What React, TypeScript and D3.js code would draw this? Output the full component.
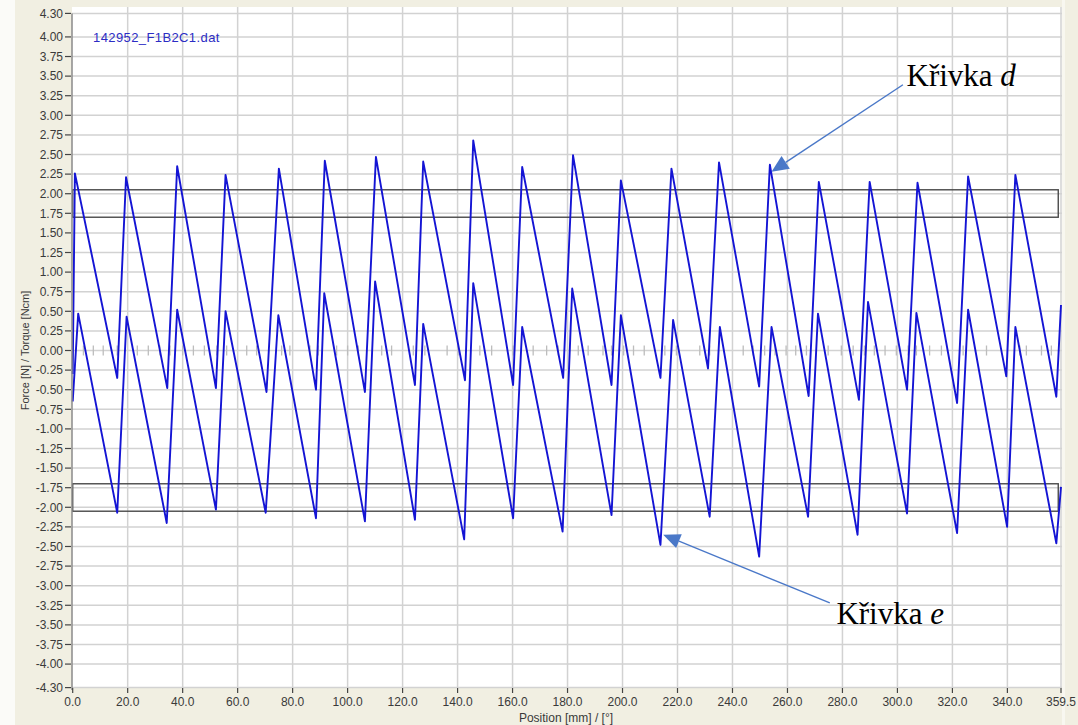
import React from "react";
import * as d3 from "d3";

const W = 1078;
const H = 725;

// ---- axis ticks ----
const yTickValues = [
  4.3, 4.0, 3.75, 3.5, 3.25, 3.0, 2.75, 2.5, 2.25, 2.0, 1.75, 1.5, 1.25, 1.0, 0.75, 0.5, 0.25, 0.0,
  -0.25, -0.5, -0.75, -1.0, -1.25, -1.5, -1.75, -2.0, -2.25, -2.5, -2.75, -3.0, -3.25, -3.5, -3.75, -4.0, -4.3,
];
const xTickValues = [0, 20, 40, 60, 80, 100, 120, 140, 160, 180, 200, 220, 240, 260, 280, 300, 320, 340, 359.5];
const xTickLabels = [
  "0.0", "20.0", "40.0", "60.0", "80.0", "100.0", "120.0", "140.0", "160.0", "180.0", "200.0",
  "220.0", "240.0", "260.0", "280.0", "300.0", "320.0", "340.0", "359.5",
];

// ---- curve d (upper) ----
const dStart: [number, number] = [0.0, -0.3];
const dPeakX = [0.8, 19.4, 38.0, 55.6, 75.0, 91.7, 110.3, 127.5, 145.7, 163.5, 182.0, 199.4, 217.8, 235.1, 253.6, 271.4, 289.9, 307.3, 325.7, 342.9];
const dPeakY = [2.26, 2.21, 2.35, 2.24, 2.32, 2.42, 2.47, 2.41, 2.68, 2.34, 2.49, 2.17, 2.32, 2.4, 2.37, 2.15, 2.15, 2.14, 2.22, 2.24];
const dTroughX = [16.2, 34.4, 52.1, 70.5, 88.5, 106.3, 124.5, 142.7, 160.2, 178.4, 196.0, 213.8, 231.1, 249.7, 267.7, 286.0, 303.5, 321.7, 339.6, 357.8];
const dTroughY = [-0.35, -0.48, -0.48, -0.53, -0.5, -0.53, -0.44, -0.38, -0.44, -0.35, -0.44, -0.35, -0.23, -0.46, -0.58, -0.63, -0.5, -0.67, -0.33, -0.59];
const dEnd: [number, number] = [359.5, 0.58];

// ---- curve e (lower) ----
const eStart: [number, number] = [0.0, -0.65];
const ePeakX = [2.0, 19.6, 38.0, 55.6, 74.8, 91.5, 110.0, 127.5, 145.7, 163.5, 181.7, 199.4, 218.4, 235.4, 254.2, 271.1, 289.3, 306.9, 325.7, 342.9];
const ePeakY = [0.47, 0.43, 0.52, 0.5, 0.45, 0.73, 0.88, 0.34, 0.86, 0.3, 0.79, 0.45, 0.39, 0.3, 0.3, 0.47, 0.62, 0.48, 0.52, 0.3];
const eTroughX = [16.2, 34.2, 52.1, 70.2, 88.5, 106.3, 124.5, 142.4, 160.2, 178.2, 196.0, 213.8, 231.7, 249.7, 267.5, 285.5, 303.5, 321.7, 339.9, 357.8];
const eTroughY = [-2.07, -2.2, -2.03, -2.07, -2.14, -2.18, -2.16, -2.41, -2.14, -2.31, -2.1, -2.48, -2.12, -2.63, -2.12, -2.35, -2.08, -2.33, -2.25, -2.46];
const eEnd: [number, number] = [359.5, -1.74];

// ---- tolerance windows ----
const windowX = [0, 358.5];
const upperWindow = [1.7, 2.05];
const lowerWindow = [-2.05, -1.7];

// ---- small grey markers on zero line ----
const zeroMarks = [
  3.9, 7.5, 11.1, 16.2, 23.5, 27.5, 31.7, 35.4, 40.0, 43.9, 47.9, 52.4, 56.0, 63.3, 66.9, 76.0, 79.0, 86.3, 89.3,
  96.0, 100.0, 103.9, 112.4, 116.0, 123.9, 128.1, 136.2, 140.2, 148.1, 152.4, 160.2, 167.5, 172.4, 176.6, 183.9,
  187.5, 192.9, 196.0, 200.4, 204.0, 207.9, 215.4, 219.6, 228.1, 231.7, 243.9, 247.5, 251.7, 255.5, 259.5, 263.0,
  266.9, 274.8, 279.6, 283.9, 288.0, 291.6, 295.5, 299.6, 303.9, 306.9, 311.7, 316.0, 323.9, 332.4, 344.5, 346.9,
  352.4, 356.0,
];

// ---- annotations (data coordinates) ----
const annotD = { label: "Křivka ", italic: "d", text: [303.3, 3.37], from: [302.0, 3.39], tip: [254.2, 2.28] };
const annotE = { label: "Křivka ", italic: "e", text: [277.8, -3.49], from: [275.4, -3.22], tip: [214.8, -2.35] };

function buildCurve(
  start: [number, number],
  px: number[],
  py: number[],
  tx: number[],
  ty: number[],
  end: [number, number]
): [number, number][] {
  const pts: [number, number][] = [start];
  for (let i = 0; i < px.length; i++) {
    pts.push([px[i], py[i]]);
    pts.push([tx[i], ty[i]]);
  }
  pts.push(end);
  return pts;
}

const dPoints = buildCurve(dStart, dPeakX, dPeakY, dTroughX, dTroughY, dEnd);
const ePoints = buildCurve(eStart, ePeakX, ePeakY, eTroughX, eTroughY, eEnd);

const BEIGE = "#f1efe2";
const GRID = "#d2d2d2";
const CURVE = "#1414d4";
const ARROW = "#4a78c8";
const TXT = "#3a3a3a";

function Arrow({ from, tip }: { from: [number, number]; tip: [number, number] }) {
  const dx = tip[0] - from[0];
  const dy = tip[1] - from[1];
  const len = Math.hypot(dx, dy);
  const ux = dx / len;
  const uy = dy / len;
  const headL = 17;
  const headW = 7.5;
  const bx = tip[0] - ux * headL;
  const by = tip[1] - uy * headL;
  const p1 = [bx - uy * headW, by + ux * headW];
  const p2 = [bx + uy * headW, by - ux * headW];
  return (
    <g>
      <line x1={from[0]} y1={from[1]} x2={bx} y2={by} stroke={ARROW} strokeWidth={1.4} />
      <polygon points={`${tip[0]},${tip[1]} ${p1[0]},${p1[1]} ${p2[0]},${p2[1]}`} fill={ARROW} />
    </g>
  );
}

export default function App() {
  const x = d3.scaleLinear().domain([0, 359.5]).range([72.7, 1061]);
  const y = d3.scaleLinear().domain([-4.3, 4.3]).range([687.6, 13.4]);
  const line = d3
    .line<[number, number]>()
    .x((d) => x(d[0]))
    .y((d) => y(d[1]));

  const plotLeft = 72;
  const plotRight = 1062;
  const plotTop = 7;
  const plotBottom = 688;

  const sans = "'Liberation Sans', Arial, sans-serif";
  const serif = "'Liberation Serif', 'Times New Roman', serif";

  const renderAnnot = (a: typeof annotD) => (
    <g>
      <Arrow from={[x(a.from[0]), y(a.from[1])]} tip={[x(a.tip[0]), y(a.tip[1])]} />
      <text x={x(a.text[0])} y={y(a.text[1])} fontFamily={serif} fontSize={31} fill="#000">
        {a.label}
        <tspan fontStyle="italic">{a.italic}</tspan>
      </text>
    </g>
  );

  return (
    <svg
      width={W}
      height={H}
      style={{ position: "absolute", left: 0, top: 0, display: "block" }}
      xmlns="http://www.w3.org/2000/svg"
    >
      <rect x={0} y={0} width={W} height={H} fill={BEIGE} />
      <rect x={0} y={0} width={15} height={H} fill="#fbfbf8" />
      <rect x={plotLeft} y={plotTop} width={plotRight - plotLeft} height={plotBottom - plotTop} fill="#ffffff" />
      <rect x={1062} y={0} width={3} height={H} fill="#f8f7f0" />

      {/* horizontal grid */}
      {yTickValues.map((v) => (
        <line key={"hg" + v} x1={plotLeft} x2={plotRight} y1={y(v)} y2={y(v)} stroke={GRID} strokeWidth={1.5} />
      ))}
      {/* vertical grid */}
      {xTickValues.slice(1).map((v) => (
        <line key={"vg" + v} x1={x(v)} x2={x(v)} y1={plotTop} y2={plotBottom} stroke={GRID} strokeWidth={1.5} />
      ))}

      {/* zero markers */}
      {zeroMarks.map((v, i) => (
        <line key={"zm" + i} x1={x(v)} x2={x(v)} y1={y(0) - 5} y2={y(0) + 5} stroke="#bdbdbd" strokeWidth={1.3} />
      ))}

      {/* tolerance windows */}
      <rect
        x={x(windowX[0])}
        y={y(upperWindow[1])}
        width={x(windowX[1]) - x(windowX[0])}
        height={y(upperWindow[0]) - y(upperWindow[1])}
        fill="none"
        stroke="#4a4a4a"
        strokeWidth={1.4}
      />
      <rect
        x={x(windowX[0])}
        y={y(lowerWindow[1])}
        width={x(windowX[1]) - x(windowX[0])}
        height={y(lowerWindow[0]) - y(lowerWindow[1])}
        fill="none"
        stroke="#4a4a4a"
        strokeWidth={1.4}
      />

      {/* curves */}
      <path d={line(ePoints) || ""} fill="none" stroke={CURVE} strokeWidth={1.9} strokeLinejoin="round" />
      <path d={line(dPoints) || ""} fill="none" stroke={CURVE} strokeWidth={1.9} strokeLinejoin="round" />

      {/* y axis */}
      <line x1={72} x2={72} y1={y(4.3)} y2={plotBottom + 2} stroke="#8a8a8a" strokeWidth={1.5} />
      {yTickValues.map((v) => (
        <g key={"yt" + v}>
          <line x1={65} x2={71} y1={y(v)} y2={y(v)} stroke="#444" strokeWidth={1.2} />
          <text x={63} y={y(v) + 4.3} textAnchor="end" fontFamily={sans} fontSize={12} fill={TXT}>
            {v.toFixed(2)}
          </text>
        </g>
      ))}

      {/* x axis ticks */}
      {xTickValues.map((v, i) => (
        <g key={"xt" + v}>
          <line x1={x(v)} x2={x(v)} y1={plotBottom} y2={plotBottom + 5} stroke="#444" strokeWidth={1.2} />
          <text x={x(v)} y={706} textAnchor="middle" fontFamily={sans} fontSize={12} fill={TXT}>
            {xTickLabels[i]}
          </text>
        </g>
      ))}

      {/* axis titles */}
      <text x={566} y={722} textAnchor="middle" fontFamily={sans} fontSize={12} fill={TXT}>
        Position [mm] / [°]
      </text>
      <text
        transform={`translate(29, ${y(0)}) rotate(-90)`}
        textAnchor="middle"
        fontFamily={sans}
        fontSize={11}
        fill={TXT}
      >
        Force [N] / Torque [Ncm]
      </text>

      {/* file name label */}
      <text x={93} y={42} fontFamily={sans} fontSize={13} letterSpacing={0.4} fill="#2c2cc4">
        142952_F1B2C1.dat
      </text>

      {renderAnnot(annotD)}
      {renderAnnot(annotE)}
    </svg>
  );
}
